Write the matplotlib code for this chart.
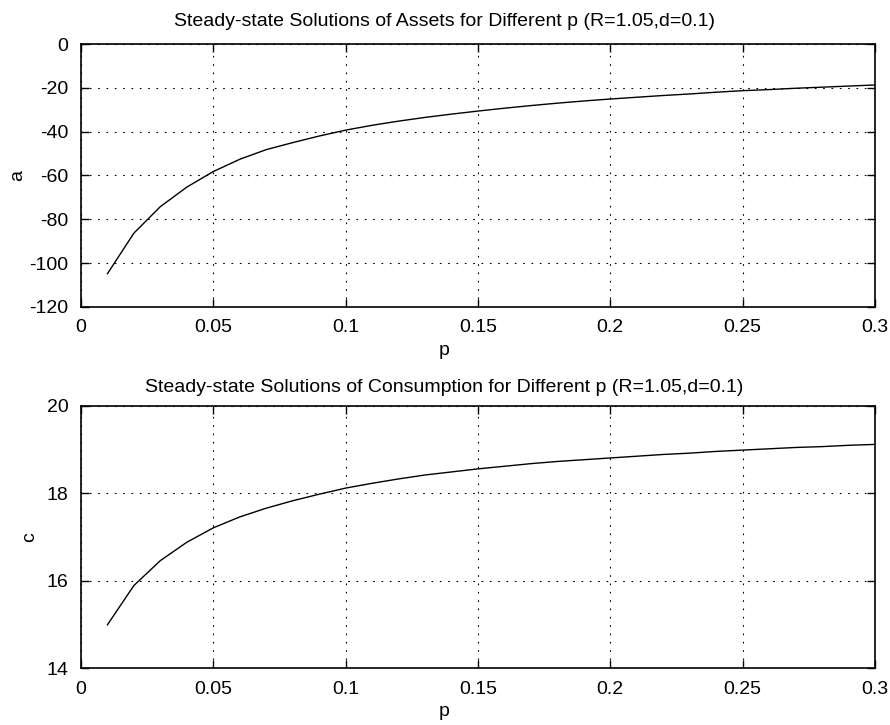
import matplotlib
matplotlib.use("Agg")
import matplotlib.pyplot as plt
import numpy as np

# p grid and read-off steady-state values
p = [0.01, 0.02, 0.03, 0.04, 0.05, 0.06, 0.07, 0.08, 0.09, 0.10,
     0.11, 0.12, 0.13, 0.14, 0.15, 0.16, 0.17, 0.18, 0.19, 0.20,
     0.21, 0.22, 0.23, 0.24, 0.25, 0.26, 0.27, 0.28, 0.29, 0.30]
assets = [-104.8, -86.3, -74.2, -65.3, -58.2, -52.6, -48.2, -45.0, -42.0, -39.3,
          -37.1, -35.2, -33.5, -32.0, -30.6, -29.3, -28.1, -27.0, -26.0, -25.1,
          -24.3, -23.5, -22.8, -22.0, -21.3, -20.8, -20.2, -19.7, -19.2, -18.7]
consumption = [14.99, 15.89, 16.46, 16.88, 17.21, 17.46, 17.66, 17.83, 17.98, 18.12,
               18.23, 18.33, 18.42, 18.49, 18.56, 18.62, 18.68, 18.73, 18.77, 18.81,
               18.85, 18.89, 18.92, 18.96, 18.99, 19.02, 19.05, 19.07, 19.10, 19.12]

xticks = [0, 0.05, 0.1, 0.15, 0.2, 0.25, 0.3]
xticklabels = ['0', '0.05', '0.1', '0.15', '0.2', '0.25', '0.3']
a_ticks = [0, -20, -40, -60, -80, -100, -120]
c_ticks = [14, 16, 18, 20]

plt.rcParams['font.family'] = ['Liberation Sans', 'DejaVu Sans']
plt.rcParams['font.size'] = 14

fig = plt.figure(figsize=(8.9, 7.25), dpi=100)
ax1 = fig.add_axes([0.091, 0.5766, 0.892, 0.3627])
ax2 = fig.add_axes([0.091, 0.0786, 0.892, 0.3614])

# titles and x labels sit at the figure centre, not the axes centre
xc = 0.458


def style(ax, yticks, ylim, ylabel, ypad, title, tpad):
    ax.set_xlim(0, 0.3)
    ax.set_ylim(*ylim)
    ax.set_xticks(xticks)
    ax.set_xticklabels(xticklabels)
    ax.set_yticks(yticks)
    ax.set_yticklabels([str(t) for t in yticks])
    ax.grid(True, linestyle=(0, (1.5, 6)), color='black', linewidth=0.8)
    ax.tick_params(direction='in', top=True, right=True, length=6, width=1,
                   labelsize=14, pad=9)
    for s in ax.spines.values():
        s.set_linewidth(1.2)
    ax.set_xlabel('p', fontsize=14, labelpad=4, x=xc)
    ax.set_ylabel(ylabel, fontsize=14, labelpad=ypad)
    ax.set_title(title, fontsize=14, pad=tpad, x=xc)


ax1.plot(p, assets, color='black', linewidth=1)
style(ax1, a_ticks, (-120, 0), 'a', 2,
      'Steady-state Solutions of Assets for Different p (R=1.05,d=0.1)', 13)

ax2.plot(p, consumption, color='black', linewidth=1)
style(ax2, c_ticks, (14, 20), 'c', 6,
      'Steady-state Solutions of Consumption for Different p (R=1.05,d=0.1)', 10)

fig.savefig('out.png', dpi=100)
